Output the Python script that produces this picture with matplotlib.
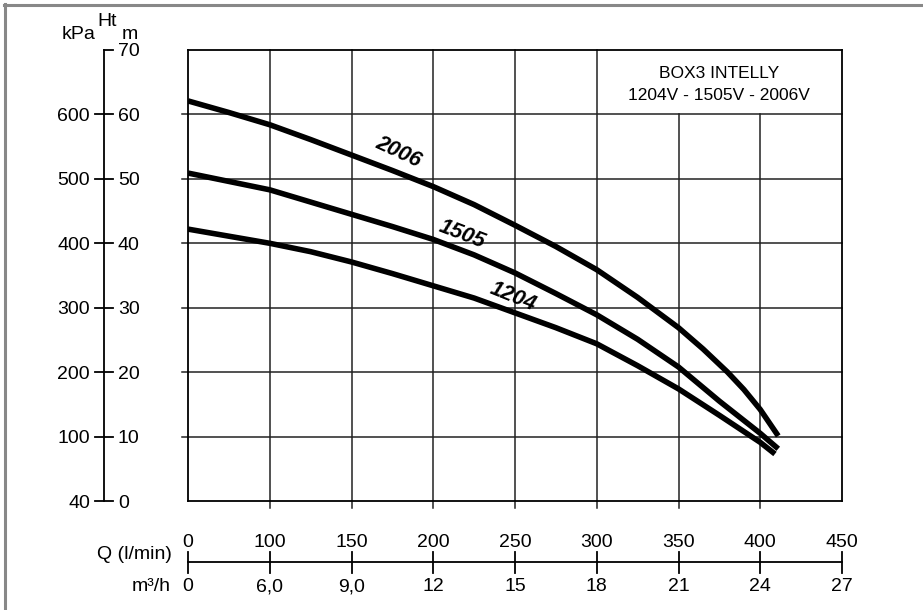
import numpy as np
import matplotlib
matplotlib.use("Agg")
import matplotlib.pyplot as plt
from matplotlib.transforms import blended_transform_factory as blend

plt.rcParams['font.family'] = ['Liberation Sans', 'DejaVu Sans']

# curves: Q (l/min) -> head (m)
q_2006 = [0, 50, 100, 125, 150, 175, 200, 225, 250, 275, 300, 325, 350, 365, 380, 390, 400, 411]
h_2006 = [62.1, 60.3, 58.4, 56.1, 53.7, 51.3, 48.8, 46.0, 42.8, 39.5, 35.9, 31.6, 26.9, 23.6, 20.0, 17.3, 14.2, 10.1]
q_1505 = [0, 50, 100, 125, 150, 175, 200, 225, 250, 275, 300, 325, 350, 375, 400, 411]
h_1505 = [50.9, 49.6, 48.3, 46.4, 44.5, 42.6, 40.6, 38.2, 35.4, 32.2, 28.9, 25.1, 20.8, 15.5, 10.5, 8.1]
q_1204 = [0, 50, 100, 125, 150, 175, 200, 225, 250, 275, 300, 325, 350, 375, 400, 409]
h_1204 = [42.2, 41.1, 40.0, 38.7, 37.1, 35.3, 33.4, 31.5, 29.2, 26.9, 24.4, 21.0, 17.4, 13.3, 9.1, 7.3]

q_ticks = [0, 100, 150, 200, 250, 300, 350, 400, 450]
m3h_labels = ['0', '6,0', '9,0', '12', '15', '18', '21', '24', '27']
m_ticks = [0, 10, 20, 30, 40, 50, 60, 70]
kpa_labels = ['40', '100', '200', '300', '400', '500', '600', '']

# curve name, label position (Q, m), rotation
labels = [('2006', 178.6, 54.2, -25), ('1505', 217.4, 41.4, -21), ('1204', 249, 31.7, -22)]

W, H = 923, 610
fig = plt.figure(figsize=(W / 100, H / 100), dpi=100)
L, R, T, B = 188, 842, 50, 501
ax = fig.add_axes([L / W, 1 - B / H, (R - L) / W, (B - T) / H])


def fwd(q):
    q = np.asarray(q, float)
    return np.where(q <= 100, q / 100, 1 + (q - 100) / 50)


def inv(x):
    x = np.asarray(x, float)
    return np.where(x <= 1, x * 100, 100 + (x - 1) * 50)


ax.set_xscale('function', functions=(fwd, inv))
ax.set_xlim(0, 450)
ax.set_ylim(0, 70)
ax.set_xticks([])
ax.set_yticks([])
for s in ax.spines.values():
    s.set_linewidth(1.3)

px_x = 1 / (R - L)     # one pixel in axes fraction
px_y = 1 / (B - T)
gc = '#222222'
fs = 14
xt = blend(ax.transData, ax.transAxes)
yt = blend(ax.transAxes, ax.transData)

# grid (sticks out a little like ticks)
for m in m_ticks[1:-1]:
    ax.plot([-6 * px_x, 1], [m, m], color=gc, lw=1.1, transform=yt, clip_on=False)
for q in q_ticks[1:-1]:
    top = 1 if q <= 300 else 60 / 70
    ax.plot([q, q], [-7 * px_y, top], color=gc, lw=1.1, transform=xt, clip_on=False)

# curves
for q, h in [(q_2006, h_2006), (q_1505, h_1505), (q_1204, h_1204)]:
    ax.plot(q, h, color='black', lw=4.0, solid_capstyle='butt', solid_joinstyle='round', zorder=3)

for name, q, m, rot in labels:
    ax.text(q, m, name, fontsize=15.5, fontweight='bold', fontstyle='italic',
            rotation=rot, ha='center', va='center', rotation_mode='anchor', zorder=4)

ax.text(375, 66.4, 'BOX3 INTELLY', fontsize=12.5, ha='center', va='center')
ax.text(375, 62.9, '1204V - 1505V - 2006V', fontsize=12.5, ha='center', va='center')

# left scale (m and kPa)
xl = -84 * px_x
ax.plot([xl, xl], [0, 70], color='black', lw=1.3, transform=yt, clip_on=False)
for m, k in zip(m_ticks, kpa_labels):
    if m == 70:
        x0, x1 = xl, xl + 9 * px_x
    else:
        x0, x1 = xl - 9 * px_x, xl + 9 * px_x
    ax.plot([x0, x1], [m, m], color='black', lw=1.3, transform=yt, clip_on=False)
    ax.text(xl + 14 * px_x, m, str(m), fontsize=fs, ha='left', va='center_baseline', transform=yt)
    ax.text(xl - 14 * px_x, m, k, fontsize=fs, ha='right', va='center_baseline', transform=yt)

# bottom scales (Q and m3/h)
yb = -(562 - B) * px_y
ax.plot([0, 450], [yb, yb], color='black', lw=1.3, transform=xt, clip_on=False)
for q, lab in zip(q_ticks, m3h_labels):
    ax.plot([q, q], [yb - 11 * px_y, yb + 10 * px_y], color='black', lw=1.3, transform=xt, clip_on=False)
    ax.text(q, yb + 15 * px_y, str(q), fontsize=fs, ha='center', va='baseline', transform=xt)
    ax.text(q, yb - 29 * px_y, lab, fontsize=fs, ha='center', va='baseline', transform=xt)

fig.text(172 / W, 1 - 559 / H, 'Q (l/min)', fontsize=fs, ha='right', va='baseline')
fig.text(171 / W, 1 - 591 / H, 'm³/h', fontsize=fs, ha='right', va='baseline')
fig.text(107 / W, 1 - 26 / H, 'Ht', fontsize=fs, ha='center', va='baseline')
fig.text(79 / W, 1 - 39 / H, 'kPa', fontsize=fs, ha='center', va='baseline')
fig.text(130 / W, 1 - 39 / H, 'm', fontsize=fs, ha='center', va='baseline')

# grey frame (top and left only)
fig.add_artist(plt.Line2D([4 / W, 1], [1 - 5 / H, 1 - 5 / H], color='#888888', lw=2.2))
fig.add_artist(plt.Line2D([5 / W, 5 / W], [0, 1 - 4 / H], color='#888888', lw=2.2))

fig.savefig('out.png', dpi=100)
